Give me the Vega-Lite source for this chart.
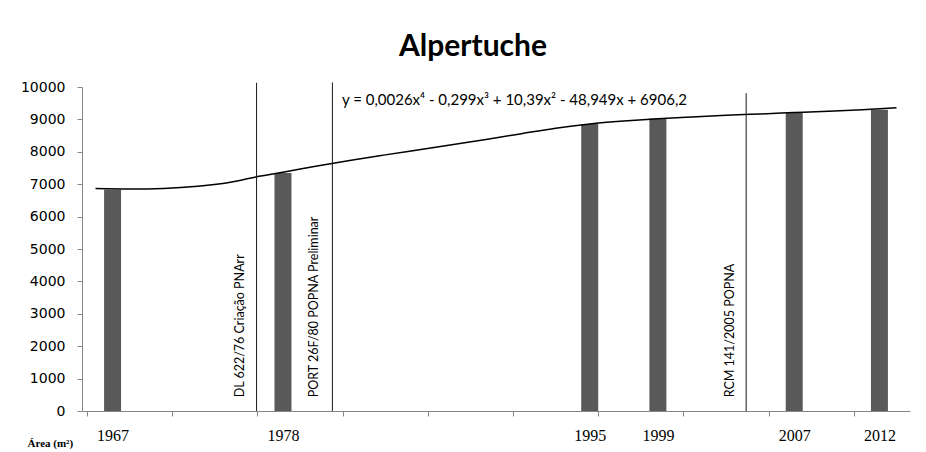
{
  "$schema": "https://vega.github.io/schema/vega-lite/v6.json",
  "autosize": {"type": "none"},
  "width": 828,
  "height": 324,
  "padding": {"left": 82, "top": 87, "right": 16, "bottom": 41},
  "background": "white",
  "title": {"text": "Alpertuche", "font": "Lato", "fontSize": 30, "fontWeight": "bold", "color": "#000000", "anchor": "middle", "dx": -23, "offset": 18},
  "config": {"view": {"stroke": null}},
  "datasets": {
    "bars": [
      {"slot": 2, "year": "1967", "area": 6830},
      {"slot": 12, "year": "1978", "area": 7346},
      {"slot": 30, "year": "1995", "area": 8860},
      {"slot": 34, "year": "1999", "area": 9025},
      {"slot": 42, "year": "2007", "area": 9195},
      {"slot": 47, "year": "2012", "area": 9300}
    ],
    "trend": [
      {"slot": 1, "fit": 6865},
      {"slot": 3, "fit": 6852},
      {"slot": 5, "fit": 6868},
      {"slot": 7, "fit": 6935},
      {"slot": 9, "fit": 7070},
      {"slot": 10.4, "fit": 7225},
      {"slot": 12, "fit": 7370},
      {"slot": 14, "fit": 7560},
      {"slot": 16, "fit": 7740},
      {"slot": 18, "fit": 7905},
      {"slot": 20, "fit": 8065},
      {"slot": 22, "fit": 8225},
      {"slot": 24, "fit": 8390},
      {"slot": 26, "fit": 8560},
      {"slot": 28, "fit": 8730},
      {"slot": 30, "fit": 8860},
      {"slot": 32, "fit": 8950},
      {"slot": 34, "fit": 9020},
      {"slot": 36, "fit": 9075},
      {"slot": 38, "fit": 9125},
      {"slot": 40, "fit": 9168},
      {"slot": 42, "fit": 9210},
      {"slot": 44, "fit": 9252},
      {"slot": 46, "fit": 9300},
      {"slot": 48, "fit": 9360}
    ],
    "events": [
      {"slot": 10.45, "top": 10130, "base": 0, "labelSlot": 9.45, "labelBase": 423, "label": "DL 622/76 Criação PNArr"},
      {"slot": 14.9, "top": 10140, "base": 0, "labelSlot": 13.83, "labelBase": 423, "label": "PORT 26F/80 POPNA Preliminar"},
      {"slot": 39.18, "top": 9810, "base": 0, "labelSlot": 38.24, "labelBase": 423, "label": "RCM 141/2005 POPNA"}
    ],
    "equation": [
      {"slot": 15.46, "value": 9590, "text": "y = 0,0026x⁴ - 0,299x³ + 10,39x² - 48,949x + 6906,2"}
    ]
  },
  "resolve": {"axis": {"x": "independent"}},
  "layer": [
    {
      "data": {"name": "bars"},
      "mark": {"type": "bar", "size": 17, "color": "#595959"},
      "encoding": {
        "x": {"field": "slot", "type": "quantitative",
              "scale": {"domain": [0.5, 48.5], "nice": false, "zero": false},
              "axis": {"orient": "bottom", "values": [0.5, 5.5, 10.5, 15.5, 20.5, 25.5, 30.5, 35.5, 40.5, 45.5], "labels": false, "title": null, "grid": false, "domainColor": "#868686", "tickColor": "#868686", "tickSize": 5, "domainWidth": 1}},
        "y": {"field": "area", "type": "quantitative",
              "scale": {"domain": [0, 10000], "nice": false},
              "axis": {"values": [0, 1000, 2000, 3000, 4000, 5000, 6000, 7000, 8000, 9000, 10000], "format": "d", "title": null, "grid": false, "labelOverlap": false, "domainColor": "#868686", "tickColor": "#868686", "tickSize": 5, "labelPadding": 12, "labelFont": "DejaVu Sans", "labelFontSize": 14, "labelColor": "#000000"}}
      }
    },
    {
      "data": {"name": "trend"},
      "mark": {"type": "line", "color": "#000000", "strokeWidth": 1.5, "interpolate": "monotone"},
      "encoding": {
        "x": {"field": "slot", "type": "quantitative",
              "axis": {"orient": "bottom", "values": [2, 12, 30, 34, 42, 47], "labelExpr": "datum.value == 2 ? '1967' : datum.value == 12 ? '1978' : datum.value == 30 ? '1995' : datum.value == 34 ? '1999' : datum.value == 42 ? '2007' : '2012'", "ticks": false, "domain": false, "grid": false, "labelFont": "Liberation Serif", "labelFontSize": 16, "labelColor": "#000000", "labelBaseline": "top", "labelPadding": 16, "title": "Área (m²)", "titleFont": "Liberation Serif", "titleFontSize": 11, "titleFontWeight": "bold", "titleColor": "#000000", "titleAnchor": "start", "titleAlign": "left", "titleBaseline": "alphabetic", "titleX": -55, "titleY": 35}},
        "y": {"field": "fit", "type": "quantitative",
              "axis": {"values": [0, 1000, 2000, 3000, 4000, 5000, 6000, 7000, 8000, 9000, 10000], "format": "d", "title": null, "grid": false, "labelOverlap": false, "domainColor": "#868686", "tickColor": "#868686", "tickSize": 5, "labelPadding": 12, "labelFont": "DejaVu Sans", "labelFontSize": 14, "labelColor": "#000000"}}
      }
    },
    {
      "data": {"name": "events"},
      "mark": {"type": "rule", "color": "#1a1a1a", "strokeWidth": 1},
      "encoding": {
        "x": {"field": "slot", "type": "quantitative", "axis": null},
        "y": {"field": "top", "type": "quantitative",
              "axis": {"values": [0, 1000, 2000, 3000, 4000, 5000, 6000, 7000, 8000, 9000, 10000], "format": "d", "title": null, "grid": false, "labelOverlap": false, "domainColor": "#868686", "tickColor": "#868686", "tickSize": 5, "labelPadding": 12, "labelFont": "DejaVu Sans", "labelFontSize": 14, "labelColor": "#000000"}},
        "y2": {"field": "base"}
      }
    },
    {
      "data": {"name": "events"},
      "mark": {"type": "text", "angle": 270, "align": "left", "baseline": "middle", "font": "Lato", "fontSize": 12.5, "color": "#000000"},
      "encoding": {
        "x": {"field": "labelSlot", "type": "quantitative", "axis": null},
        "y": {"field": "labelBase", "type": "quantitative",
              "axis": {"values": [0, 1000, 2000, 3000, 4000, 5000, 6000, 7000, 8000, 9000, 10000], "format": "d", "title": null, "grid": false, "labelOverlap": false, "domainColor": "#868686", "tickColor": "#868686", "tickSize": 5, "labelPadding": 12, "labelFont": "DejaVu Sans", "labelFontSize": 14, "labelColor": "#000000"}},
        "text": {"field": "label", "type": "nominal"}
      }
    },
    {
      "data": {"name": "equation"},
      "mark": {"type": "text", "align": "left", "baseline": "middle", "font": "Lato", "fontSize": 15, "color": "#000000"},
      "encoding": {
        "x": {"field": "slot", "type": "quantitative", "axis": null},
        "y": {"field": "value", "type": "quantitative",
              "axis": {"values": [0, 1000, 2000, 3000, 4000, 5000, 6000, 7000, 8000, 9000, 10000], "format": "d", "title": null, "grid": false, "labelOverlap": false, "domainColor": "#868686", "tickColor": "#868686", "tickSize": 5, "labelPadding": 12, "labelFont": "DejaVu Sans", "labelFontSize": 14, "labelColor": "#000000"}},
        "text": {"field": "text", "type": "nominal"}
      }
    }
  ]
}
